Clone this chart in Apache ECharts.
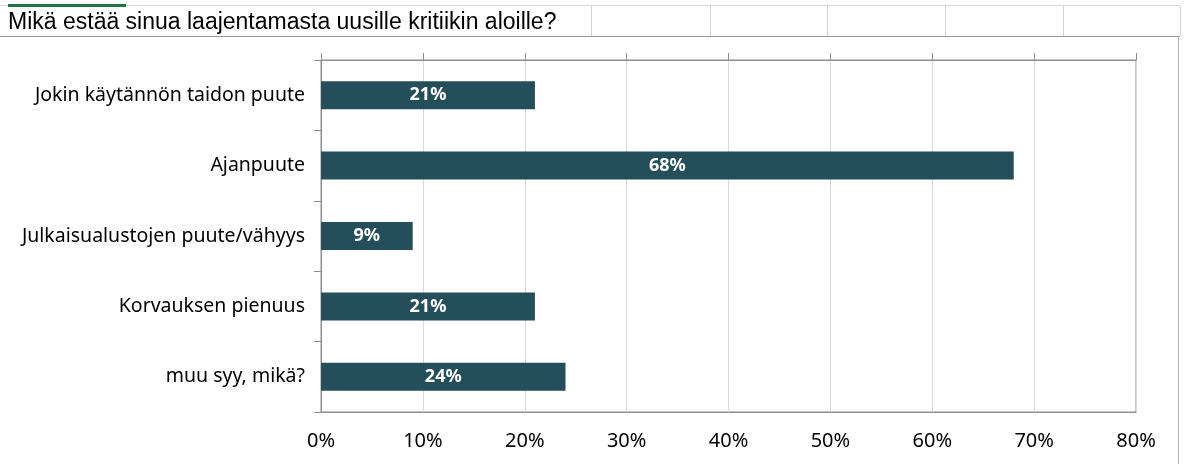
<!DOCTYPE html>
<html>
<head>
<meta charset="utf-8">
<script src="https://cdn.jsdelivr.net/npm/echarts@6/dist/echarts.min.js"></script>
<style>
html,body{margin:0;padding:0;background:#fff;}
#c{width:1185px;height:464px;}
</style>
</head>
<body>
<div id="c"></div>
<script>
const title = "Mikä estää sinua laajentamasta uusille kritiikin aloille?";
const categories = ["Jokin käytännön taidon puute", "Ajanpuute", "Julkaisualustojen puute/vähyys", "Korvauksen pienuus", "muu syy, mikä?"];
const values = [21, 68, 9, 21, 24];
const axisMin = 0, axisMax = 80, axisStep = 10;

const chart = echarts.init(document.getElementById('c'), null, {renderer: 'canvas'});
const labelFont = '"Noto Sans", sans-serif';
const headerCols = [591, 710, 827, 945, 1063, 1180];
const graphics = [
  {type:'line', shape:{x1:0,y1:5.5,x2:1180,y2:5.5}, style:{stroke:'#d9d9d9',lineWidth:1}, silent:true},
  {type:'rect', shape:{x:8,y:4,width:118,height:3}, style:{fill:'#217346'}, silent:true},
  {type:'line', shape:{x1:0,y1:36.5,x2:1180,y2:36.5}, style:{stroke:'#9a9a9a',lineWidth:1}, silent:true},
  {type:'line', shape:{x1:1178.5,y1:36,x2:1178.5,y2:464}, style:{stroke:'#b0b0b0',lineWidth:1}, silent:true},
  {type:'text', left:8, top:11, style:{text:title, font:'23px "Liberation Sans", Arial, sans-serif', fill:'#000'}, silent:true}
];
headerCols.forEach(x => graphics.push({type:'line', shape:{x1:x+0.5,y1:6,x2:x+0.5,y2:36}, style:{stroke:'#d4d4d4',lineWidth:1}, silent:true}));

chart.setOption({
  animation:false,
  backgroundColor:'#fff',
  graphic: graphics,
  grid:{left:321, top:60, width:815, height:352, show:true, borderColor:'#8e8e8e', borderWidth:1, containLabel:false},
  xAxis:[
    {type:'value', position:'bottom', min:axisMin, max:axisMax, interval:axisStep,
     axisLine:{show:true, lineStyle:{color:'#8e8e8e', width:1}},
     axisTick:{show:false},
     axisLabel:{formatter:'{value}%', color:'#000', fontSize:20, fontFamily:labelFont, margin:19},
     splitLine:{show:true, lineStyle:{color:'#dadada', width:1}}},
    {type:'value', position:'top', min:axisMin, max:axisMax, interval:axisStep,
     axisLine:{show:true, lineStyle:{color:'#8e8e8e', width:1}},
     axisTick:{show:true, length:7, inside:false, lineStyle:{color:'#8e8e8e'}},
     axisLabel:{show:false}, splitLine:{show:false}}
  ],
  yAxis:{type:'category', data:categories, inverse:true,
    axisLine:{show:true, lineStyle:{color:'#8e8e8e', width:1}},
    axisTick:{show:true, length:7, lineStyle:{color:'#8e8e8e'}},
    axisLabel:{color:'#000', fontSize:19.5, fontFamily:labelFont, margin:16}},
  series:[{type:'bar', xAxisIndex:0, data:values, barWidth:28,
    itemStyle:{color:'#244f5a'},
    label:{show:true, position:'inside', formatter:'{c}%', color:'#fff', fontWeight:'bold', fontSize:18, fontFamily:labelFont}}]
});
</script>
</body>
</html>
